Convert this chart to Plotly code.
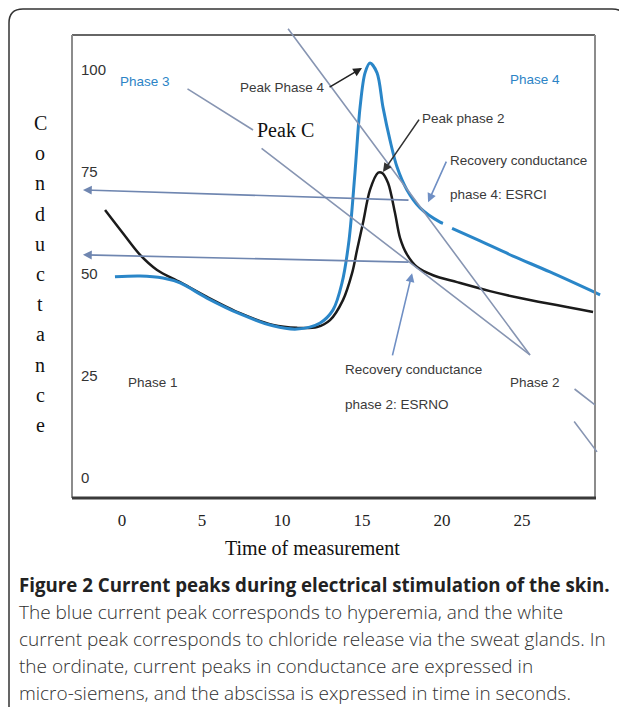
import plotly.graph_objects as go

# the page body keeps an 8px margin, so the figure is drawn 8px in from the corner
OFF = 8
W, H = 627 - OFF, 707 - OFF

# black curve (chloride release peak)
black_t = [-1.06, 0.06, 1.13, 2.19, 3.63, 5.31, 7.38, 9.44, 10.94, 12.19, 13.0, 13.81,
           14.38, 14.69, 15.06, 15.5, 16.0, 16.25, 16.63, 17.06, 17.38, 17.81, 18.44,
           19.44, 20.94, 23.0, 24.88, 29.44]
black_c = [65.7, 60.0, 54.7, 51.0, 48.0, 44.4, 40.4, 37.5, 36.8, 37.0, 38.7, 43.6,
           50.2, 55.9, 62.5, 70.6, 74.8, 74.8, 72.3, 65.0, 58.8, 54.8, 51.7,
           49.7, 48.0, 45.8, 44.1, 40.7]

# blue curve (hyperemia peak), small break after 20 s
blue_t = [-0.44, 1.13, 2.56, 3.63, 5.31, 7.38, 9.44, 10.94, 12.38, 13.19, 13.75, 14.19,
          14.56, 14.88, 15.19, 15.5, 15.94, 16.31, 16.75, 17.19, 17.81, 18.63, 19.88,
          20.06, None, 20.63, 22.38, 24.44, 26.75, 29.88]
blue_c = [49.3, 49.5, 49.0, 47.8, 44.1, 40.2, 37.3, 36.5, 38.0, 41.2, 47.8, 58.3,
          74.8, 90.9, 99.3, 101.7, 99.3, 90.9, 82.8, 76.2, 70.6, 66.2, 62.7,
          62.4, None, 61.2, 58.1, 54.4, 50.5, 44.9]

x_ticks = [0, 5, 10, 15, 20, 25]
y_ticks = [0, 25, 50, 75, 100]

# pointer lines: (tail_t, tail_c, head_t, head_c, with_head, colour)
GRAY = "#8795b2"
pointers = [
    (10.31, 110.5, 25.5, 30.15, False, GRAY),
    (4.0, 95.6, 8.19, 85.3, False, GRAY),
    (8.63, 81.1, 25.5, 30.15, False, GRAY),
    (12.88, 95.6, 15.0, 100.5, True, "#222222"),
    (18.63, 88.2, 16.31, 75.0, True, "#333333"),
    (18.0, 68.1, -2.44, 70.6, True, "#6f86b0"),
    (18.0, 52.9, -2.44, 54.7, True, "#6f86b0"),
    (20.31, 77.9, 19.13, 67.6, True, "#6f8fc4"),
    (16.88, 29.7, 18.13, 50.2, True, "#6f8fc4"),
    (28.19, 22.1, 29.56, 17.9, False, GRAY),
    (28.19, 14.2, 29.69, 6.4, False, GRAY),
]

# labels inside the plot: (text, t, c, anchor, colour)
BLUE_TXT = "#2c84c6"
DARK_TXT = "#3a3a3a"
labels = [
    ("Phase 3", 1.44, 97.1, "center", BLUE_TXT),
    ("Peak Phase 4", 10.06, 95.8, "center", DARK_TXT),
    ("Phase 4", 25.81, 97.6, "center", BLUE_TXT),
    ("Peak phase 2", 18.63, 88.2, "left", DARK_TXT),
    ("Recovery conductance", 20.38, 77.9, "left", DARK_TXT),
    ("phase 4: ESRCI", 20.38, 69.4, "left", DARK_TXT),
    ("Phase 1", 1.94, 23.3, "center", DARK_TXT),
    ("Recovery conductance", 13.81, 26.5, "left", DARK_TXT),
    ("phase 2: ESRNO", 13.81, 17.9, "left", DARK_TXT),
    ("Phase 2", 25.81, 23.3, "center", DARK_TXT),
]

caption_title = "Figure 2 Current peaks during electrical stimulation of the skin."
caption_lines = [
    "The blue current peak corresponds to hyperemia, and the white",
    "current peak corresponds to chloride release via the sweat glands. In",
    "the ordinate, current peaks in conductance are expressed in",
    "micro-siemens, and the abscissa is expressed in time in seconds.",
]

NARROW = "Liberation Sans, Arial, sans-serif"
SERIF = "Liberation Serif, DejaVu Serif, serif"


def px(x):
    # page pixel -> paper x
    return (x - OFF) / W


def py(y):
    # page pixel -> paper y
    return 1 - (y - OFF) / H


fig = go.Figure()

fig.add_trace(go.Scatter(
    x=black_t, y=black_c, mode="lines",
    line=dict(color="#1b1b1b", width=2.5, shape="spline", smoothing=0.9),
    hoverinfo="skip",
))
fig.add_trace(go.Scatter(
    x=blue_t, y=blue_c, mode="lines", connectgaps=False,
    line=dict(color="#2a86c8", width=3, shape="spline", smoothing=0.9),
    hoverinfo="skip",
))

annotations = []
for t0, c0, t1, c1, head, col in pointers:
    annotations.append(dict(
        x=t1, y=c1, ax=t0, ay=c0, xref="x", yref="y", axref="x", ayref="y",
        text="", showarrow=True, arrowhead=2 if head else 0, arrowsize=1.1,
        arrowwidth=1.6, arrowcolor=col, standoff=0, startstandoff=0,
    ))

for text, t, c, anchor, col in labels:
    annotations.append(dict(
        x=t, y=c, xref="x", yref="y", text=text, showarrow=False,
        xanchor=anchor, yanchor="middle",
        font=dict(family=NARROW, size=13.5, color=col),
    ))

annotations.append(dict(
    x=10.19, y=85.3, xref="x", yref="y", text="Peak C", showarrow=False,
    font=dict(family=SERIF, size=20, color="#111111"),
))

# vertical axis title, one letter per row
for i, ch in enumerate("Conductance"):
    annotations.append(dict(
        x=px(40), y=py(123 + i * 30.2), xref="paper", yref="paper",
        text=ch, showarrow=False, xanchor="center", yanchor="middle",
        font=dict(family=SERIF, size=20, color="#111111"),
    ))

annotations.append(dict(
    x=px(312), y=py(548), xref="paper", yref="paper", text="Time of measurement",
    showarrow=False, xanchor="center", yanchor="middle",
    font=dict(family=SERIF, size=20, color="#111111"),
))

annotations.append(dict(
    x=px(17), y=py(584), xref="paper", yref="paper", text="<b>" + caption_title + "</b>",
    showarrow=False, xanchor="left", yanchor="middle",
    font=dict(family="Open Sans, sans-serif", size=18.7, color="#222222"),
))
for i, line in enumerate(caption_lines):
    annotations.append(dict(
        x=px(17), y=py(612 + i * 27), xref="paper", yref="paper", text=line,
        showarrow=False, xanchor="left", yanchor="middle",
        font=dict(family="Open Sans, sans-serif", size=19, color="#303030", weight=300),
    ))

# outer rounded box and plot frame
r = 14
x0, x1, yt, yb = px(9), px(626), py(9), py(730)
rx, ry = r / W, r / H
box_path = (f"M {x0},{yb} L {x0},{yt - ry} Q {x0},{yt} {x0 + rx},{yt} "
            f"L {x1 - rx},{yt} Q {x1},{yt} {x1},{yt - ry} L {x1},{yb}")
shapes = [
    dict(type="path", path=box_path, xref="paper", yref="paper",
         line=dict(color="#333333", width=1.5)),
    dict(type="line", xref="paper", yref="paper", x0=px(72), x1=px(595), y0=py(35), y1=py(35),
         line=dict(color="#666666", width=2)),
    dict(type="line", xref="paper", yref="paper", x0=px(595), x1=px(595), y0=py(35), y1=py(498),
         line=dict(color="#8c8c8c", width=2)),
    dict(type="line", xref="paper", yref="paper", x0=px(72), x1=px(72), y0=py(35), y1=py(498),
         line=dict(color="#8c8c8c", width=2)),
    dict(type="line", xref="paper", yref="paper", x0=px(72), x1=px(596), y0=py(498), y1=py(498),
         line=dict(color="#3a3a3a", width=3)),
]

fig.update_layout(
    width=W, height=H,
    margin=dict(l=0, r=0, t=0, b=0),
    paper_bgcolor="white", plot_bgcolor="white",
    showlegend=False, hovermode=False,
    xaxis=dict(
        domain=[px(72), px(610)], range=[(72 - 122) / 16, (610 - 122) / 16],
        tickvals=x_ticks, showgrid=False, zeroline=False, showline=False, ticks="",
        ticklabelstandoff=10,
        tickfont=dict(family=SERIF, size=17, color="#222222"),
    ),
    yaxis=dict(
        domain=[py(498), py(35)], range=[(478 - 498) / 4.08, (478 - 35) / 4.08],
        tickvals=y_ticks, showgrid=False, zeroline=False, showline=False, ticks="",
        ticklabelposition="inside", ticklabelstandoff=6,
        tickfont=dict(family=NARROW, size=15, color="#333333"),
    ),
    annotations=annotations,
    shapes=shapes,
)

fig.write_html("out.html", config={"displayModeBar": False})
